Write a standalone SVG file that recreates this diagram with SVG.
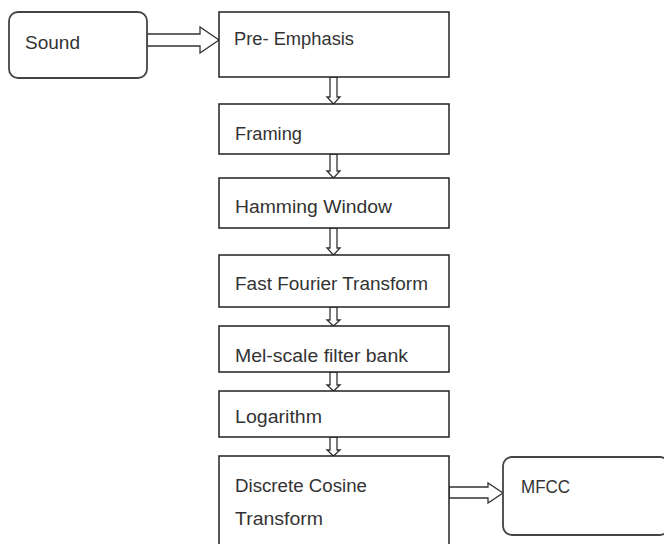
<svg xmlns="http://www.w3.org/2000/svg" width="664" height="544" viewBox="0 0 664 544">
<style>
.box{fill:#fff;stroke:#222;stroke-width:1.5}
.rbox{fill:#fff;stroke:#444;stroke-width:1.8}
.arr{fill:#fff;stroke:#333;stroke-width:1.3;stroke-linejoin:miter}
text{font-family:"Liberation Sans",Arial,sans-serif;font-size:17.5px;fill:#333}
</style>
<rect width="664" height="544" fill="#fff"/>
<g id="connectors">
<polygon class="arr" points="147,34 200,34 200,27 219,40 200,53 200,46 147,46"/>
<polygon class="arr" points="330,77 337,77 337,97 340,97 333.5,104 327,97 330,97"/>
<polygon class="arr" points="330,154 337,154 337,171 340,171 333.5,178 327,171 330,171"/>
<polygon class="arr" points="330,228 337,228 337,248 340,248 333.5,255 327,248 330,248"/>
<polygon class="arr" points="330,307 337,307 337,320 340,320 333.5,326 327,320 330,320"/>
<polygon class="arr" points="330,372 337,372 337,385 340,385 333.5,391 327,385 330,385"/>
<polygon class="arr" points="330,437 337,437 337,450 340,450 333.5,456 327,450 330,450"/>
<polygon class="arr" points="449,487 488,487 488,483 503,493 488,503 488,498 449,498"/>
</g>
<g id="sound"><rect class="rbox" x="9" y="12" width="138" height="66" rx="9"/><text x="25" y="49" textLength="55" lengthAdjust="spacingAndGlyphs">Sound</text></g>
<g id="pre-emphasis"><rect class="box" x="219" y="12" width="230" height="65"/><text x="234" y="45" textLength="120" lengthAdjust="spacingAndGlyphs">Pre- Emphasis</text></g>
<g id="framing"><rect class="box" x="219" y="104" width="230" height="50"/><text x="235" y="140" textLength="67" lengthAdjust="spacingAndGlyphs">Framing</text></g>
<g id="hamming"><rect class="box" x="219" y="178" width="230" height="50"/><text x="235" y="213" textLength="157" lengthAdjust="spacingAndGlyphs">Hamming Window</text></g>
<g id="fft"><rect class="box" x="219" y="255" width="230" height="52"/><text x="235" y="290" textLength="193" lengthAdjust="spacingAndGlyphs">Fast Fourier Transform</text></g>
<g id="mel"><rect class="box" x="219" y="326" width="230" height="46"/><text x="235" y="362" textLength="173" lengthAdjust="spacingAndGlyphs">Mel-scale filter bank</text></g>
<g id="log"><rect class="box" x="219" y="391" width="230" height="46"/><text x="235" y="423" textLength="87" lengthAdjust="spacingAndGlyphs">Logarithm</text></g>
<g id="dct"><rect class="box" x="219" y="456" width="230" height="96"/><text x="235" y="492" textLength="132" lengthAdjust="spacingAndGlyphs">Discrete Cosine</text><text x="235" y="525" textLength="88" lengthAdjust="spacingAndGlyphs">Transform</text></g>
<g id="mfcc"><rect class="rbox" x="503" y="457" width="166" height="78" rx="9"/><text x="521" y="493" textLength="49" lengthAdjust="spacingAndGlyphs">MFCC</text></g>
</svg>
